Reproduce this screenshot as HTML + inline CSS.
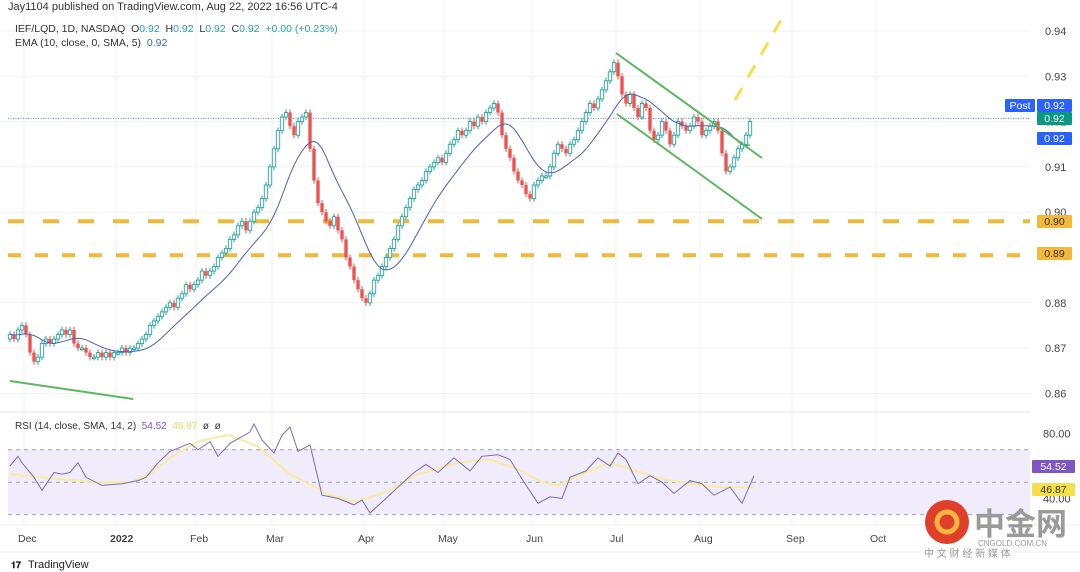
<!DOCTYPE html>
<html><head><meta charset="utf-8">
<style>
html,body{margin:0;padding:0;background:#fff;width:1080px;height:572px;overflow:hidden}
svg{display:block;font-family:"Liberation Sans","Noto Sans CJK SC",sans-serif}
</style></head>
<body>
<svg id="chart" width="1080" height="572" viewBox="0 0 1080 572">
</svg>
<script>
// ===== DATA =====
// closes in thousandths above 0.860, one per trading day (Nov 26 2021 .. Aug 22 2022)
const closeVals = [13,12,14,15,13,9,7,8,11,12,11,12,13,14,13,14,11,10,10,9,
8,8,9,8,9,8,9,9,10,9,10,10,11,12,13,15,16,17,18,19,
20,19,21,22,24,23,24,25,27,26,27,28,30,31,32,34,35,37,38,36,
38,40,41,43,46,50,54,58,61,62,59,57,60,61,62,54,47,42,40,38,
37,39,36,34,30,28,25,23,21,20,22,25,26,28,30,32,34,37,39,41,
43,45,46,47,49,50,51,52,51,53,55,56,58,57,58,60,59,61,60,62,
63,64,62,57,54,52,49,47,46,44,43,46,47,48,48,50,53,55,54,53,
55,56,58,60,62,64,63,65,67,69,71,73,70,66,64,66,63,61,64,63,
58,56,57,60,58,55,57,60,59,58,59,61,60,57,58,59,60,58,53,49,
50,52,54,55,57,60];
const priceTicks = [0.94,0.93,0.92,0.91,0.90,0.88,0.87,0.86];
const supportLevels = [0.898,0.8905];
const monthLabels = ["Dec","2022","Feb","Mar","Apr","May","Jun","Jul","Aug","Sep","Oct"];
const monthBars = [2,25,45,64,87,107,129,150,171,194,215];
const rsiBars = [0,2,3,6,8,11,13,15,17,19,23,28,32,34,37,40,42,45,47,50,52,55,60,61,63,66,68,70,72,75,78,82,86,88,90,94,97,101,104,107,111,115,118,122,125,128,132,135,138,140,144,147,150,152,154,157,160,163,166,170,173,176,180,183,186];
const rsiVals = [60,66,62,53,45,56,55,56,62,53,48,49,51,53,62,69,71,74,70,75,66,74,81,86,76,68,79,84,69,73,42,40,36,39,31,40,47,56,61,56,65,57,66,67,64,52,37,41,40,53,57,65,60,68,64,49,54,50,43,51,49,42,47,37,54];
const smaBars = [0,12,22,30,35,40,47,52,55,62,70,80,87,95,102,112,120,127,133,137,143,150,155,163,170,177,186];
const smaVals = [55,52,50,50,55,65,75,78,79,72,55,42,38,45,55,62,64,58,50,48,55,62,58,52,49,47,46.9];
const rsiTicks = [80,60,40];

// ===== SCALES =====
const NS="http://www.w3.org/2000/svg";
const svg=document.getElementById('chart');
function bx(i){return 10+4*i;}
function py(v){return 31+(0.94-v)*4530;}
function ry(v){return 466-(v-60)*1.62;}
function cv(i){return 0.86+closeVals[i]/1000;}
function el(tag,attrs,parent){const e=document.createElementNS(NS,tag);for(const k in attrs)e.setAttribute(k,attrs[k]);(parent||svg).appendChild(e);return e;}
function txt(x,y,s,attrs){const t=el('text',Object.assign({x:x,y:y},attrs||{}));t.textContent=s;return t;}

// ===== GRID =====
const grid=el('g',{});


monthBars.forEach(b=>{el('line',{x1:bx(b)+6,x2:bx(b)+6,y1:0,y2:525,stroke:'#f0f1f4','stroke-width':1},grid);});
priceTicks.forEach(v=>{el('line',{x1:0,x2:1030,y1:py(v),y2:py(v),stroke:'#f0f1f4','stroke-width':1},grid);});

// ===== HEADER =====
let t;
t=txt(8,10,'Jay1104 published on TradingView.com, Aug 22, 2022 16:56 UTC-4',{'font-size':11,fill:'#333'});


const hdr=el('text',{x:15,y:32,'font-size':10.5,fill:'#333'});


hdr.innerHTML='IEF/LQD, 1D, NASDAQ&#160; O<tspan fill="#26a69a">0.92</tspan>&#160; H<tspan fill="#26a69a">0.92</tspan>&#160; L<tspan fill="#26a69a">0.92</tspan>&#160; C<tspan fill="#26a69a">0.92</tspan>&#160; <tspan fill="#26a69a">+0.00 (+0.23%)</tspan>';
const hdr2=el('text',{x:15,y:46,'font-size':10.5,fill:'#333'});


hdr2.innerHTML='EMA (10, close, 0, SMA, 5)&#160; <tspan fill="#3f63c9">0.92</tspan>';

// ===== SUPPORT LINES =====
supportLevels.forEach((v,k)=>{
  const l=el('line',{x1:8,x2:1030,y1:py(v),y2:py(v),stroke:'#f2b83a','stroke-width':4,'stroke-dasharray':k==0?'16,19':'13,14'});
  
  
});
const cl=el('line',{x1:8,x2:1030,y1:py(0.9205)-1,y2:py(0.9205)-1,stroke:'#5b7fc7','stroke-width':1,'stroke-dasharray':'1,1.5'});



// ===== CANDLES =====
const cg=el('g',{});


for(let i=0;i<closeVals.length;i++){
  const c=cv(i), o=i>0?cv(i-1):c-0.001;
  const up=c>=o, hi=Math.max(o,c)+0.0007, lo=Math.min(o,c)-0.0007;
  const g=el('g',{},cg);
  
  
  const col=up?'#26a69a':'#ef5350';
  el('line',{x1:bx(i),x2:bx(i),y1:py(hi),y2:py(lo),stroke:col,'stroke-width':1},g);
  const y1=py(Math.max(o,c)), h=Math.max(1.5,py(Math.min(o,c))-y1);
  el('rect',{x:bx(i)-1.7,y:y1,width:3.4,height:h,fill:up?'#fff':col,stroke:col,'stroke-width':up?0.9:0},g);
}
const ema=[];let e0=cv(0);
for(let i=0;i<closeVals.length;i++){e0=i==0?cv(0):(cv(i)*2/11+e0*9/11);ema.push(e0);}
let d='';
for(let i=0;i<ema.length;i++){let s=0,n=0;for(let j=Math.max(0,i-4);j<=i;j++){s+=ema[j];n++;}d+=(i?'L':'M')+bx(i)+','+py(s/n).toFixed(1);}
const ep=el('path',{d:d,fill:'none',stroke:'#4a5fc1','stroke-width':1});



// ===== TREND LINES =====
[[10,381,133,399],[616,53,762,158],[617,114,762,219]].forEach(p=>{
  const l=el('line',{x1:p[0],y1:p[1],x2:p[2],y2:p[3],stroke:'#5cb85c','stroke-width':2});
  
  
});
const yl=el('line',{x1:735,y1:100,x2:781,y2:20,stroke:'#f5e04a','stroke-width':3,'stroke-dasharray':'14,12'});



// ===== PRICE AXIS =====
priceTicks.forEach(v=>{const a=txt(1045,py(v)+4,v.toFixed(2),{'font-size':11,fill:'#444'});

});
function badge(x,y,w,bg,fg,s,name){const g=el('g',{});
 el('rect',{x:x,y:y,width:w,height:13,fill:bg,rx:1},g);const tt=txt(x+w/2,y+10,s,{'font-size':10.5,fill:fg,'text-anchor':'middle'});g.appendChild(tt);}
badge(1005,99,30,'#2962ff','#fff','Post','post-label');
badge(1037,99,35,'#2962ff','#fff','0.92','post-price-badge');
badge(1037,112,35,'#089981','#fff','0.92','last-price-badge');
badge(1037,132,35,'#2962ff','#fff','0.92','ema-badge');
badge(1037,215,35,'#f2b83a','#333','0.90','support-badge-090');
badge(1037,247,35,'#f2b83a','#333','0.89','support-badge-089');

// ===== RSI PANE =====
el('line',{x1:0,x2:1030,y1:412,y2:412,stroke:'#e6e6e6'});
const band=el('rect',{x:8,y:ry(70),width:1022,height:ry(30)-ry(70),fill:'#f0ecfb'});


[70,50,30].forEach(v=>el('line',{x1:8,x2:1030,y1:ry(v),y2:ry(v),stroke:'#a0a0b0','stroke-width':1,'stroke-dasharray':'4,4'}));
let sd='';smaBars.forEach((b,k)=>{sd+=(k?'L':'M')+bx(b)+','+ry(smaVals[k]).toFixed(1);});
const sp=el('path',{d:sd,fill:'none',stroke:'#f7eca0','stroke-width':2});


let rd='';rsiBars.forEach((b,k)=>{rd+=(k?'L':'M')+bx(b)+','+ry(rsiVals[k]).toFixed(1);});
const rp=el('path',{d:rd,fill:'none',stroke:'#7e6bb5','stroke-width':1});


const rl=el('text',{x:15,y:429,'font-size':10,fill:'#333'});


rl.innerHTML='RSI (14, close, SMA, 14, 2)&#160; <tspan fill="#7e57c2">54.52</tspan>&#160; <tspan fill="#e8d86a">46.87</tspan>&#160; ø&#160; ø';
rsiTicks.forEach(v=>{const a=txt(1043,ry(v)+4,v.toFixed(2),{'font-size':11,fill:'#444'});

});
badge(1032,460,43,'#7e57c2','#fff','54.52','rsi-value-badge');
badge(1032,483,43,'#f5e04a','#333','46.87','rsi-sma-badge');

// ===== TIME AXIS =====
el('line',{x1:0,x2:1080,y1:525,y2:525,stroke:'#eee'});
monthLabels.forEach((m,k)=>{const a=txt(bx(monthBars[k]),542,m,{'font-size':10.5,fill:'#444','font-weight':m=='2022'?'bold':'normal'});

});
el('line',{x1:0,x2:1080,y1:552,y2:552,stroke:'#eee'});
const ft=txt(28,568,'TradingView',{'font-size':11,fill:'#222'});


const fl=txt(11,568,'𝟏𝟕',{'font-size':9,fill:'#222','font-weight':'bold'});



// ===== WATERMARK =====
const wm=el('g',{});


el('circle',{cx:947,cy:522,r:22,fill:'#e0402a'},wm);
el('circle',{cx:947,cy:522,r:10,fill:'none',stroke:'#f5b642','stroke-width':5},wm);
wm.appendChild(txt(974,535,'中金网',{'font-size':31,fill:'#9a9a9a','font-weight':'bold'}));
wm.appendChild(txt(978,546,'CNGOLD.COM.CN',{'font-size':8,fill:'#999'}));
wm.appendChild(txt(924,557,'中 文 财 经 新 媒 体',{'font-size':10,fill:'#999'}));
</script>
</body></html>
